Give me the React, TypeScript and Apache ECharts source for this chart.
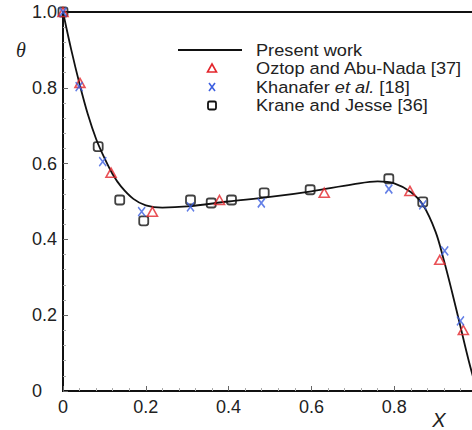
import React, { useEffect, useRef } from "react";
import * as echarts from "echarts";

// Present work: dimensionless temperature profile θ along X
const presentX = [0, 0.02, 0.04, 0.06, 0.08, 0.1, 0.12, 0.14, 0.17, 0.2, 0.24, 0.3, 0.4, 0.5, 0.6, 0.7, 0.76, 0.8, 0.84, 0.87, 0.9, 0.92, 0.94, 0.96, 0.98, 1.0];
const presentY = [1.0, 0.9, 0.81, 0.73, 0.665, 0.615, 0.572, 0.54, 0.507, 0.49, 0.484, 0.487, 0.5, 0.512, 0.527, 0.545, 0.553, 0.548, 0.525, 0.49, 0.42, 0.345, 0.26, 0.17, 0.08, 0.0];

// Oztop and Abu-Nada [37]
const oztopX = [0, 0.041, 0.116, 0.216, 0.378, 0.631, 0.838, 0.91, 0.967];
const oztopY = [1.0, 0.813, 0.576, 0.473, 0.504, 0.523, 0.528, 0.346, 0.161];

// Khanafer et al. [18]
const khanaferX = [0, 0.039, 0.096, 0.19, 0.308, 0.479, 0.787, 0.869, 0.922, 0.96];
const khanaferY = [1.0, 0.803, 0.605, 0.473, 0.486, 0.496, 0.533, 0.491, 0.37, 0.185];

// Krane and Jesse [36]
const kraneX = [0, 0.085, 0.137, 0.195, 0.308, 0.358, 0.407, 0.486, 0.597, 0.787, 0.869];
const kraneY = [1.0, 0.645, 0.504, 0.449, 0.504, 0.496, 0.504, 0.523, 0.531, 0.56, 0.499];

// tick labels shown on each axis (1.0 on X falls outside the visible frame)
const xTickLabels = ["0", "0.2", "0.4", "0.6", "0.8"];
const yTickLabels = ["0", "0.2", "0.4", "0.6", "0.8", "1.0"];

const legendNames = ["Present work", "Oztop and Abu-Nada [37]", "Khanafer et al. [18]", "Krane and Jesse [36]"];

const RED = "#e3262c";
const BLUE = "#3c5fe0";
const BLACK = "#111111";
const CROSS = "path://M0,0L10,10M10,0L0,10";

const zip = (xs: number[], ys: number[]) => xs.map((x, i) => [x, ys[i]]);

const fmt = (labels: string[]) => (v: number) => {
  const s = v === 0 ? "0" : v.toFixed(1);
  return labels.includes(s) ? s : "";
};

export default function App() {
  const ref = useRef<HTMLDivElement>(null);

  useEffect(() => {
    if (!ref.current) return;
    document.body.style.margin = "0";
    document.body.style.overflow = "hidden";
    const chart = echarts.init(ref.current, null, { renderer: "svg" });

    const labelStyle = { color: "#222", fontSize: 18, fontFamily: "Liberation Sans, Arial, sans-serif" };
    const axisCommon = {
      type: "value" as const,
      min: 0,
      max: 1,
      interval: 0.2,
      splitLine: { show: false },
      axisLine: { show: true, lineStyle: { color: BLACK, width: 2 } },
      axisTick: { show: true, inside: true, length: 5, lineStyle: { color: "#666", width: 1 } },
      minorTick: { show: true, splitNumber: 5, length: 3, lineStyle: { color: "#aaa", width: 1 } },
    };

    const rowY = [50, 68.5, 87, 105.5];
    const textX = 256;
    const iconX = 212;
    const legendFont = "17px Liberation Sans, Arial, sans-serif";
    const stretch = 1.07;

    chart.setOption({
      animation: false,
      backgroundColor: "#fff",
      grid: {
        left: 63,
        top: 12,
        bottom: 39,
        right: 1,
        show: true,
        borderColor: BLACK,
        borderWidth: 2,
      },
      xAxis: {
        ...axisCommon,
        axisLabel: { ...labelStyle, margin: 7, formatter: fmt(xTickLabels) },
      },
      yAxis: {
        ...axisCommon,
        axisLabel: { ...labelStyle, margin: 31, align: "left", formatter: fmt(yTickLabels) },
      },
      series: [
        {
          name: legendNames[0],
          type: "line",
          data: zip(presentX, presentY),
          smooth: 0.35,
          symbol: "none",
          lineStyle: { color: BLACK, width: 1.8 },
          z: 2,
        },
        {
          name: legendNames[3],
          type: "scatter",
          data: zip(kraneX, kraneY),
          symbol: "roundRect",
          symbolSize: 9,
          itemStyle: { color: "rgba(255,255,255,0)", borderColor: BLACK, borderWidth: 1.8 },
          z: 3,
        },
        {
          name: legendNames[1],
          type: "scatter",
          data: zip(oztopX, oztopY),
          symbol: "triangle",
          symbolSize: [10, 9],
          itemStyle: { color: "rgba(255,255,255,0)", borderColor: RED, borderWidth: 1.6 },
          z: 4,
        },
        {
          name: legendNames[2],
          type: "scatter",
          data: zip(khanaferX, khanaferY),
          symbol: CROSS,
          symbolSize: [7, 9],
          itemStyle: { color: "rgba(255,255,255,0)", borderColor: BLUE, borderWidth: 1.6 },
          z: 5,
        },
      ],
      graphic: [
        // axis titles
        {
          type: "text",
          x: 21,
          y: 50,
          style: {
            text: "θ",
            font: "italic 20px Liberation Serif, serif",
            fill: "#222",
            textAlign: "center",
            textVerticalAlign: "middle",
          },
        },
        {
          type: "text",
          x: 439,
          y: 420,
          style: {
            text: "X",
            font: "italic 20px Liberation Sans, Arial, sans-serif",
            fill: "#222",
            textAlign: "center",
            textVerticalAlign: "middle",
          },
        },
        // legend
        {
          type: "line",
          shape: { x1: 178, y1: rowY[0], x2: 242, y2: rowY[0] },
          style: { stroke: BLACK, lineWidth: 1.8 },
        },
        {
          type: "polygon",
          shape: { points: [[iconX, rowY[1] - 4.5], [iconX + 4.5, rowY[1] + 3.5], [iconX - 4.5, rowY[1] + 3.5]] },
          style: { fill: "none", stroke: RED, lineWidth: 1.6 },
        },
        {
          type: "line",
          shape: { x1: iconX - 3, y1: rowY[2] - 4, x2: iconX + 3, y2: rowY[2] + 4 },
          style: { stroke: BLUE, lineWidth: 1.6 },
        },
        {
          type: "line",
          shape: { x1: iconX + 3, y1: rowY[2] - 4, x2: iconX - 3, y2: rowY[2] + 4 },
          style: { stroke: BLUE, lineWidth: 1.6 },
        },
        {
          type: "rect",
          shape: { x: iconX - 4, y: rowY[3] - 4, width: 8, height: 8, r: 1.5 },
          style: { fill: "none", stroke: BLACK, lineWidth: 1.8 },
        },
        ...[0, 1, 3].map((i) => ({
          type: "text",
          x: textX,
          y: rowY[i],
          scaleX: stretch,
          style: { text: legendNames[i], font: legendFont, fill: "#222", textVerticalAlign: "middle" },
        })),
        {
          type: "text",
          x: textX,
          y: rowY[2],
          scaleX: stretch,
          style: {
            text: "{n|Khanafer }{i|et al.}{n| [18]}",
            textVerticalAlign: "middle",
            rich: {
              n: { font: legendFont, fill: "#222" },
              i: { font: "italic " + legendFont, fill: "#222" },
            },
          },
        },
      ],
    });

    return () => chart.dispose();
  }, []);

  return (
    <div
      ref={ref}
      style={{ position: "fixed", left: 0, top: 0, width: 480, height: 430, background: "#fff" }}
    />
  );
}
